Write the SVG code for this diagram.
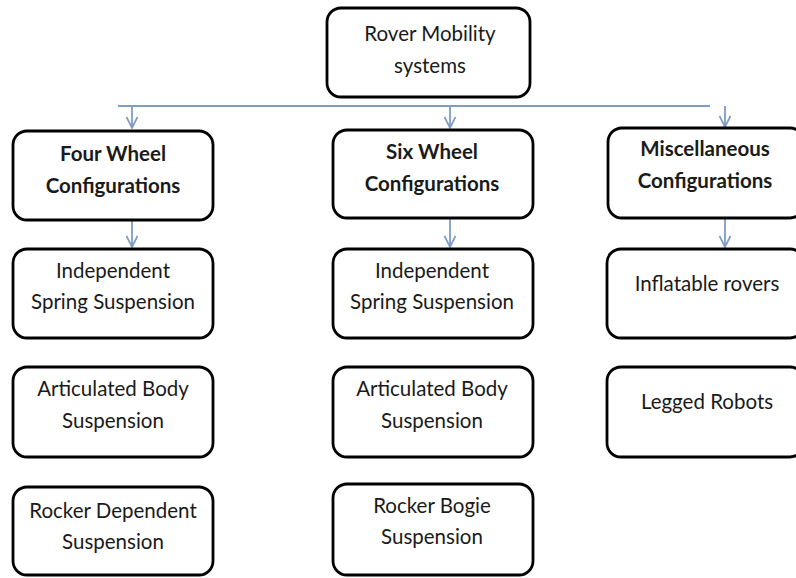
<svg xmlns="http://www.w3.org/2000/svg" width="796" height="578" viewBox="0 0 796 578">
<defs>
<marker id="arr" markerWidth="14" markerHeight="14" refX="13" refY="7" orient="auto" markerUnits="userSpaceOnUse" viewBox="0 0 14 14">
<path d="M2,1.5 L13,7 L2,12.5" fill="none" stroke="#7e9cc6" stroke-width="1.7"/>
</marker>
<style>
.box{fill:#fff;stroke:#000;stroke-width:2.8}
.t{font-family:Lato,"Liberation Sans",sans-serif;font-size:20.5px;fill:#1a1a1a;text-anchor:middle}
.b{font-weight:bold;font-size:20.5px}
.c{stroke:#7e9cc6;stroke-width:1.8;fill:none}
.a{marker-end:url(#arr)}
</style>
</defs>
<rect width="796" height="578" fill="#fff"/>
<g id="connectors">
<line class="c" x1="118" y1="106" x2="710" y2="106"/>
<line class="c a" x1="132" y1="106" x2="132" y2="128"/>
<line class="c a" x1="450" y1="106" x2="450" y2="128"/>
<line class="c a" x1="725" y1="106" x2="725" y2="127"/>
<line class="c a" x1="132" y1="220" x2="132" y2="247"/>
<line class="c a" x1="450" y1="218" x2="450" y2="247"/>
<line class="c a" x1="725" y1="218" x2="725" y2="247"/>
</g>
<g id="root"><rect class="box" x="327" y="8" width="203" height="89" rx="14"/>
<text class="t" x="430" y="41">Rover Mobility</text><text class="t" x="430" y="73">systems</text></g>
<g id="four"><rect class="box" x="13" y="131" width="200" height="89" rx="14"/>
<text class="t b" x="113" y="161">Four Wheel</text><text class="t b" x="113" y="193">Configurations</text></g>
<g id="six"><rect class="box" x="333" y="130" width="200" height="88" rx="14"/>
<text class="t b" x="432" y="159">Six Wheel</text><text class="t b" x="432" y="191">Configurations</text></g>
<g id="misc"><rect class="box" x="608" y="128" width="196" height="90" rx="14"/>
<text class="t b" x="705" y="156">Miscellaneous</text><text class="t b" x="705" y="188">Configurations</text></g>
<g id="four-iss"><rect class="box" x="13" y="249" width="200" height="89" rx="14"/>
<text class="t" x="113" y="278">Independent</text><text class="t" x="113" y="309">Spring Suspension</text></g>
<g id="four-abs"><rect class="box" x="13" y="367" width="200" height="90" rx="14"/>
<text class="t" x="113" y="396">Articulated Body</text><text class="t" x="113" y="428">Suspension</text></g>
<g id="four-rds"><rect class="box" x="13" y="487" width="200" height="88" rx="14"/>
<text class="t" x="113" y="518">Rocker Dependent</text><text class="t" x="113" y="549">Suspension</text></g>
<g id="six-iss"><rect class="box" x="333" y="249" width="200" height="89" rx="14"/>
<text class="t" x="432" y="278">Independent</text><text class="t" x="432" y="309">Spring Suspension</text></g>
<g id="six-abs"><rect class="box" x="333" y="367" width="200" height="90" rx="14"/>
<text class="t" x="432" y="396">Articulated Body</text><text class="t" x="432" y="428">Suspension</text></g>
<g id="six-rbs"><rect class="box" x="333" y="484" width="200" height="91" rx="14"/>
<text class="t" x="432" y="513">Rocker Bogie</text><text class="t" x="432" y="544">Suspension</text></g>
<g id="misc-inf"><rect class="box" x="607" y="249" width="197" height="89" rx="14"/>
<text class="t" x="707" y="291">Inflatable rovers</text></g>
<g id="misc-leg"><rect class="box" x="607" y="367" width="197" height="90" rx="14"/>
<text class="t" x="707" y="409">Legged Robots</text></g>
</svg>
